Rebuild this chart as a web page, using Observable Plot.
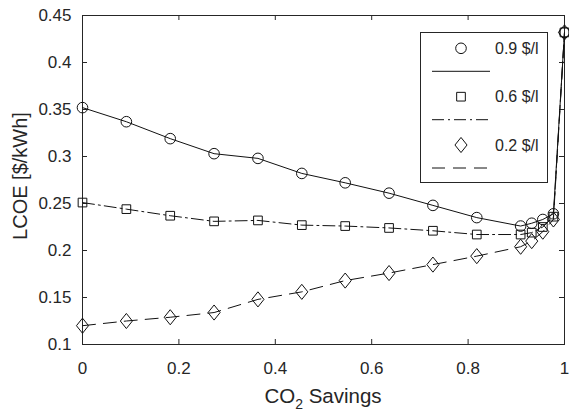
<!DOCTYPE html>
<html><head><meta charset="utf-8">
<script src="https://cdn.jsdelivr.net/npm/d3@7"></script>
<script src="https://cdn.jsdelivr.net/npm/@observablehq/plot@0.6"></script>
<style>body{margin:0;background:#fff} svg{display:block}</style>
</head><body><div id="chart"></div>
<script>
// CO2 savings (x)
const savings = [0, 0.091, 0.182, 0.273, 0.364, 0.455, 0.545, 0.636, 0.727, 0.818, 0.909, 0.932, 0.955, 0.977, 1];
// LCOE [$/kWh] per fuel price
const lcoe09 = [0.352, 0.337, 0.319, 0.303, 0.298, 0.282, 0.272, 0.261, 0.248, 0.235, 0.226, 0.229, 0.233, 0.239, 0.432];
const lcoe06 = [0.251, 0.244, 0.237, 0.231, 0.232, 0.227, 0.226, 0.224, 0.221, 0.217, 0.217, 0.219, 0.225, 0.236, 0.432];
const lcoe02 = [0.120, 0.125, 0.129, 0.134, 0.148, 0.156, 0.168, 0.176, 0.185, 0.194, 0.204, 0.210, 0.220, 0.233, 0.432];
const seriesNames = ["0.9 $/l", "0.6 $/l", "0.2 $/l"];
const xTicks = [0, 0.2, 0.4, 0.6, 0.8, 1];
const yTicks = [0.1, 0.15, 0.2, 0.25, 0.3, 0.35, 0.4, 0.45];

const W = 569, H = 412, mL = 82, mR = 5, mT = 15, mB = 68;
const pw = W - mL - mR, ph = H - mT - mB;
const ink = "#262626";
const font = "'Liberation Sans', Arial, sans-serif";

const diamond = {draw(ctx, size) {
  const r = Math.sqrt(size / Math.PI), h = r * 1.4, w = r * 1.12;
  ctx.moveTo(0, -h); ctx.lineTo(w, 0); ctx.lineTo(0, h); ctx.lineTo(-w, 0); ctx.closePath();
}};
const styles = [
  {dash: null, symbol: "circle", r: 5.3},
  {dash: "12,4,2,4", symbol: "square", r: 4.9},
  {dash: "13,8", symbol: diamond, r: 5.4}
];
const values = [lcoe09, lcoe06, lcoe02];
const data = [];
values.forEach((arr, i) => arr.forEach((v, j) => data.push({series: seriesNames[i], x: savings[j], y: v})));

const marks = [
  Plot.frame({stroke: ink}),
  Plot.tickX(xTicks, {x: d => d, stroke: ink, insetTop: ph - 5}),
  Plot.tickX(xTicks, {x: d => d, stroke: ink, insetBottom: ph - 5}),
  Plot.tickY(yTicks, {y: d => d, stroke: ink, insetRight: pw - 5}),
  Plot.tickY(yTicks, {y: d => d, stroke: ink, insetLeft: pw - 5}),
  Plot.axisX({ticks: xTicks, tickSize: 0, tickPadding: 17, tickFormat: d => String(d), label: null}),
  Plot.axisY({ticks: yTicks, tickSize: 0, tickPadding: 11, tickFormat: d => String(d), label: null})
];
seriesNames.forEach((name, i) => {
  const sub = data.filter(d => d.series === name);
  marks.push(Plot.line(sub, {x: "x", y: "y", stroke: "#111", strokeWidth: 1, strokeDasharray: styles[i].dash}));
  marks.push(Plot.dot(sub, {x: "x", y: "y", stroke: "#111", fill: "none", strokeWidth: 1, symbol: styles[i].symbol, r: styles[i].r}));
});

const chart = Plot.plot({
  width: W, height: H,
  marginLeft: mL, marginRight: mR, marginTop: mT, marginBottom: mB,
  x: {domain: [0, 1]},
  y: {domain: [0.1, 0.45]},
  style: {fontFamily: font, fontSize: "17px", color: ink, background: "white", overflow: "visible"},
  marks
});
document.getElementById("chart").appendChild(chart);

const svg = d3.select(chart);
// axis labels
const xl = svg.append("text").attr("x", mL + pw / 2).attr("y", 403)
  .attr("text-anchor", "middle").attr("fill", ink)
  .style("font-family", font).style("font-size", "20.5px");
xl.append("tspan").text("CO");
xl.append("tspan").attr("font-size", "14px").attr("dy", 6).text("2");
xl.append("tspan").attr("dy", -6).text(" Savings");

svg.append("text").attr("transform", `translate(27,176) rotate(-90)`)
  .attr("text-anchor", "middle").attr("fill", ink)
  .style("font-family", font).style("font-size", "20px")
  .text("LCOE [$/kWh]");

// legend
const lg = svg.append("g");
lg.append("rect").attr("x", 420.5).attr("y", 32.5).attr("width", 127).attr("height", 150)
  .attr("fill", "white").attr("stroke", ink);
const rowY = [48.3, 96.7, 145];
seriesNames.forEach((name, i) => {
  const sym = typeof styles[i].symbol === "string" ? (styles[i].symbol === "circle" ? d3.symbolCircle : d3.symbolSquare) : styles[i].symbol;
  lg.append("path").attr("transform", `translate(461,${rowY[i]})`)
    .attr("d", d3.symbol(sym, styles[i].r * styles[i].r * Math.PI)())
    .attr("fill", "none").attr("stroke", "#111");
  lg.append("line").attr("x1", 432).attr("x2", 490).attr("y1", rowY[i] + 23).attr("y2", rowY[i] + 23)
    .attr("stroke", "#111").attr("stroke-dasharray", styles[i].dash);
  lg.append("text").attr("x", 495).attr("y", rowY[i]).attr("dy", "0.35em")
    .attr("text-anchor", "start")
    .attr("fill", ink).style("font-family", font).style("font-size", "16px").text(name);
});
</script></body></html>
